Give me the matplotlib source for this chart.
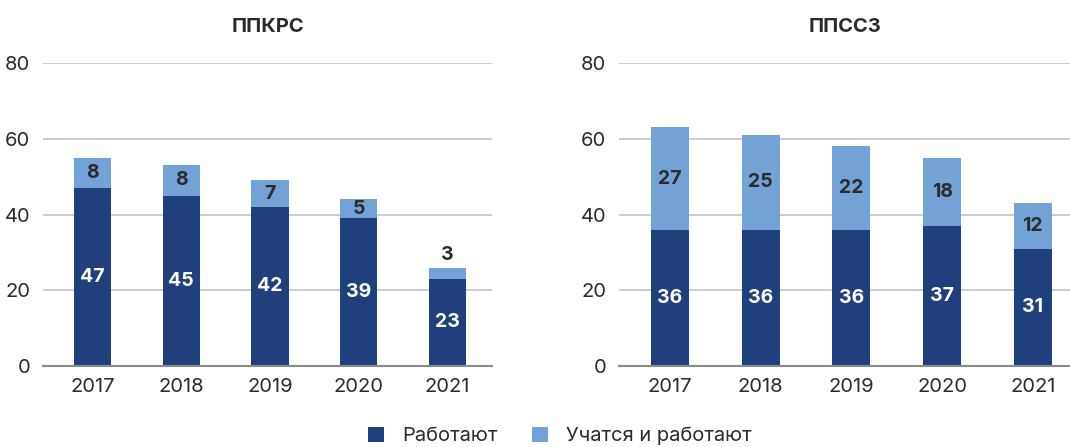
import numpy as np
import matplotlib.pyplot as plt

plt.rcParams['font.family'] = ['Inter', 'DejaVu Sans']

years = ['2017', '2018', '2019', '2020', '2021']
titles = ['ППКРС', 'ППССЗ']
work_ppkrs = [47, 45, 42, 39, 23]
study_ppkrs = [8, 8, 7, 5, 3]
work_ppssz = [36, 36, 36, 37, 31]
study_ppssz = [27, 25, 22, 18, 12]
legend_labels = ['Работают', 'Учатся и работают']

DARK = '#1f3f7d'
LIGHT = '#72a2d6'
TXT = '#2b2b2b'

fig = plt.figure(figsize=(10.70, 4.47), dpi=100)
W, H = 1070, 447
ax1 = fig.add_axes([43 / W, 1 - 366 / H, (492 - 43) / W, (366 - 63) / H])
ax2 = fig.add_axes([619 / W, 1 - 366 / H, (1070 - 619) / W, (366 - 63) / H])

x = np.arange(len(years))
bw = 0.42

def draw(ax, work, study, title, xlim):
    ax.set_axisbelow(True)
    b1 = ax.bar(x, work, bw, color=DARK, label=legend_labels[0], zorder=2)
    b2 = ax.bar(x, study, bw, bottom=work, color=LIGHT, label=legend_labels[1], zorder=2)
    for i in range(len(x)):
        ax.text(x[i], work[i] / 2, str(work[i]), ha='center', va='center',
                color='white', fontsize=14, fontweight='bold', zorder=3)
        if study[i] >= 5:
            ax.text(x[i], work[i] + study[i] / 2, str(study[i]), ha='center', va='center',
                    color=TXT, fontsize=14, fontweight='bold', zorder=3)
        else:
            # too small to fit, put it above the bar
            ax.text(x[i], work[i] + study[i] + 0.8, str(study[i]), ha='center', va='bottom',
                    color=TXT, fontsize=14, fontweight='bold', zorder=3)
    ax.set_ylim(0, 80)
    ax.set_xlim(*xlim)
    ax.set_yticks([0, 20, 40, 60, 80])
    ax.set_xticks(x)
    ax.set_xticklabels(years)
    ax.yaxis.grid(True, color='#c8c8c8', linewidth=1.3)
    for s in ['top', 'right', 'left']:
        ax.spines[s].set_visible(False)
    ax.spines['bottom'].set_color('#8a8a8a')
    ax.spines['bottom'].set_linewidth(1.5)
    ax.tick_params(length=0, labelsize=14.5, colors=TXT)
    ax.tick_params(axis='x', pad=9)
    ax.tick_params(axis='y', pad=9)
    ax.set_title(title, fontsize=14.5, fontweight='bold', color=TXT, pad=22)
    return b1, b2

h = draw(ax1, work_ppkrs, study_ppkrs, titles[0], (-0.558, 4.5))
draw(ax2, work_ppssz, study_ppssz, titles[1], (-0.562, 4.41))

fig.legend(h, legend_labels, loc='center', bbox_to_anchor=(560 / W, 1 - 436 / H),
           ncol=2, frameon=False, fontsize=14.5, labelcolor=TXT,
           handlelength=0.8, handleheight=0.8, columnspacing=1.7, handletextpad=0.9)

fig.savefig('out.png', dpi=100)
